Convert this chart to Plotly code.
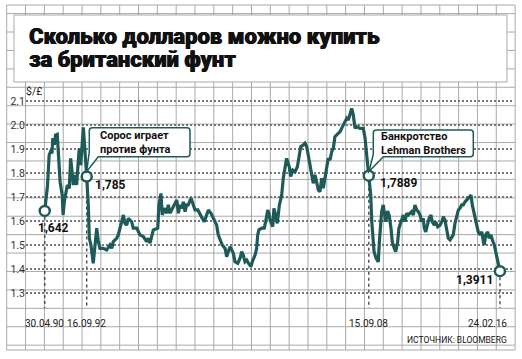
import plotly.graph_objects as go

# ---------------- data ----------------
years = [
    1990.33, 1990.49, 1990.58, 1990.66, 1990.74, 1990.79, 1990.88, 1990.94, 1991.04, 1991.07,
    1991.15, 1991.20, 1991.32, 1991.37, 1991.44, 1991.54, 1991.61, 1991.72, 1991.80, 1991.88,
    1991.95, 1992.05, 1992.14, 1992.23, 1992.29, 1992.37, 1992.46, 1992.52, 1992.71, 1992.80,
    1992.86, 1992.95, 1993.08, 1993.18, 1993.28, 1993.37, 1993.46, 1993.65, 1993.84, 1994.03,
    1994.13, 1994.22, 1994.41, 1994.50, 1994.60, 1994.79, 1994.88, 1994.98, 1995.07, 1995.17,
    1995.26, 1995.35, 1995.55, 1995.73, 1995.92, 1996.11, 1996.20, 1996.30, 1996.49, 1996.74,
    1996.81, 1996.92, 1997.00, 1997.11, 1997.25, 1997.34, 1997.43, 1997.53, 1997.68, 1997.82,
    1997.91, 1998.00, 1998.10, 1998.19, 1998.29, 1998.38, 1998.47, 1998.63, 1998.76, 1998.85,
    1999.01, 1999.14, 1999.27, 1999.38, 1999.52, 1999.61, 1999.76, 1999.89, 1999.99, 2000.08,
    2000.17, 2000.33, 2000.40, 2000.56, 2000.65, 2000.74, 2000.84, 2000.94, 2001.03, 2001.12,
    2001.28, 2001.41, 2001.50, 2001.59, 2001.69, 2001.79, 2001.88, 2002.03, 2002.10, 2002.26,
    2002.35, 2002.41, 2002.48, 2002.64, 2002.78, 2002.86, 2002.98, 2003.05, 2003.11, 2003.26,
    2003.33, 2003.45, 2003.52, 2003.64, 2003.77, 2003.86, 2003.96, 2004.05, 2004.20, 2004.28,
    2004.40, 2004.53, 2004.66, 2004.77, 2004.85, 2005.00, 2005.09, 2005.19, 2005.28, 2005.38,
    2005.47, 2005.56, 2005.66, 2005.76, 2005.85, 2005.94, 2006.04, 2006.13, 2006.23, 2006.32,
    2006.41, 2006.51, 2006.61, 2006.70, 2006.79, 2006.92, 2007.08, 2007.17, 2007.27, 2007.36,
    2007.46, 2007.55, 2007.65, 2007.74, 2007.83, 2007.93, 2008.03, 2008.21, 2008.40, 2008.50,
    2008.59, 2008.71, 2008.82, 2008.88, 2008.93, 2009.01, 2009.12, 2009.25, 2009.31, 2009.39,
    2009.44, 2009.53, 2009.59, 2009.67, 2009.78, 2009.86, 2009.97, 2010.04, 2010.16, 2010.24,
    2010.35, 2010.42, 2010.54, 2010.67, 2010.76, 2010.86, 2010.95, 2011.05, 2011.14, 2011.24,
    2011.33, 2011.43, 2011.52, 2011.62, 2011.71, 2011.80, 2011.86, 2011.94, 2012.05, 2012.13,
    2012.24, 2012.31, 2012.43, 2012.51, 2012.62, 2012.75, 2012.85, 2012.94, 2013.03, 2013.13,
    2013.22, 2013.32, 2013.41, 2013.50, 2013.60, 2013.70, 2013.79, 2013.88, 2013.98, 2014.07,
    2014.17, 2014.36, 2014.51, 2014.58, 2014.70, 2014.83, 2014.92, 2015.02, 2015.12, 2015.21,
    2015.26, 2015.34, 2015.46, 2015.53, 2015.64, 2015.72, 2015.83, 2015.91, 2015.98, 2016.06,
    2016.15,
]
usd_per_gbp = [
    1.642, 1.750, 1.875, 1.889, 1.882, 1.945, 1.917, 1.958, 1.961, 1.930,
    1.847, 1.764, 1.708, 1.625, 1.680, 1.722, 1.750, 1.736, 1.861, 1.805,
    1.750, 1.792, 1.750, 1.847, 1.903, 1.833, 1.945, 1.990, 1.785, 1.667,
    1.528, 1.500, 1.424, 1.514, 1.570, 1.514, 1.486, 1.486, 1.479, 1.500,
    1.486, 1.514, 1.528, 1.542, 1.570, 1.625, 1.590, 1.583, 1.611, 1.604,
    1.597, 1.570, 1.570, 1.542, 1.535, 1.514, 1.528, 1.508, 1.563, 1.570,
    1.667, 1.715, 1.625, 1.653, 1.632, 1.667, 1.632, 1.646, 1.667, 1.688,
    1.632, 1.667, 1.653, 1.680, 1.639, 1.667, 1.667, 1.695, 1.667, 1.646,
    1.646, 1.625, 1.611, 1.597, 1.625, 1.646, 1.632, 1.611, 1.590, 1.583,
    1.542, 1.514, 1.500, 1.486, 1.451, 1.472, 1.493, 1.479, 1.465, 1.430,
    1.424, 1.445, 1.472, 1.458, 1.430, 1.437, 1.424, 1.410, 1.430, 1.458,
    1.486, 1.542, 1.563, 1.570, 1.570, 1.597, 1.646, 1.632, 1.604, 1.576,
    1.653, 1.618, 1.590, 1.667, 1.708, 1.778, 1.820, 1.861, 1.826, 1.785,
    1.812, 1.805, 1.826, 1.875, 1.910, 1.917, 1.924, 1.910, 1.875, 1.826,
    1.799, 1.757, 1.792, 1.757, 1.729, 1.722, 1.778, 1.736, 1.785, 1.826,
    1.861, 1.854, 1.889, 1.903, 1.951, 1.961, 1.972, 1.986, 2.000, 2.007,
    2.028, 2.021, 2.049, 2.069, 2.042, 1.986, 1.993, 1.986, 1.986, 1.945,
    1.875, 1.7889, 1.708, 1.597, 1.528, 1.472, 1.445, 1.430, 1.514, 1.597,
    1.639, 1.667, 1.642, 1.597, 1.642, 1.625, 1.570, 1.514, 1.486, 1.472,
    1.514, 1.570, 1.597, 1.625, 1.597, 1.632, 1.625, 1.632, 1.639, 1.625,
    1.667, 1.646, 1.639, 1.625, 1.597, 1.611, 1.570, 1.555, 1.583, 1.611,
    1.625, 1.597, 1.583, 1.597, 1.576, 1.583, 1.597, 1.618, 1.604, 1.563,
    1.528, 1.521, 1.535, 1.542, 1.590, 1.625, 1.646, 1.653, 1.667, 1.667,
    1.680, 1.695, 1.708, 1.667, 1.625, 1.583, 1.555, 1.542, 1.555, 1.514,
    1.500, 1.542, 1.555, 1.528, 1.542, 1.521, 1.500, 1.472, 1.445, 1.417,
    1.3911,
]

event_years = [1990.33, 1992.71, 2008.71, 2016.15]
event_values = [1.642, 1.785, 1.7889, 1.3911]
event_value_labels = ["1,642", "1,785", "1,7889", "1,3911"]
event_date_labels = ["30.04.90", "16.09.92", "15.09.08", "24.02.16"]

y_tick_values = [1.3, 1.4, 1.5, 1.6, 1.7, 1.8, 1.9, 2.0, 2.1]
y_tick_labels = ["1.3", "1.4", "1.5", "1.6", "1.7", "1.8", "1.9", "2.0", "2.1"]

title_lines = ["Сколько долларов можно купить", "за британский фунт"]
unit_label = "$/£"
callout_soros = ["Сорос играет", "против фунта"]
callout_lehman = ["Банкротство", "Lehman Brothers"]
source_text = "ИСТОЧНИК: BLOOMBERG"

# ---------------- layout geometry ----------------
W, H = 522, 359
L, R, T, B = 26, 514, 95, 310
X0_PX, X0_YR, PX_PER_YR = 86.7, 1992.71, 17.63
Y0_PX, Y0_V, PX_PER_V = 101.0, 2.1, 240.0

TEAL = "#1e5a58"
GRID = "#a9a9a9"
SMALLF = "Roboto, Liberation Sans, sans-serif"
BOLDF = "Roboto, Inter, sans-serif"


def dx(px):
    return X0_YR + (px - X0_PX) / PX_PER_YR


def dy(py):
    return Y0_V - (py - Y0_PX) / PX_PER_V


def pxp(px):
    return (px - L) / (R - L)


def pyp(py):
    return (B - py) / (B - T)


fig = go.Figure()

fig.add_trace(go.Scatter(
    x=years, y=usd_per_gbp, mode="lines",
    line=dict(color=TEAL, width=3.2), hoverinfo="skip", showlegend=False,
))
fig.add_trace(go.Scatter(
    x=event_years, y=event_values, mode="markers",
    marker=dict(symbol="circle", size=10, color="white", line=dict(color=TEAL, width=2.5)),
    hoverinfo="skip", showlegend=False,
))

shapes = []
# graph-paper background
vx = [6.7 + k * 18.83 for k in range(28)]
hy = [5.0] + [13.6 + k * 18.42 for k in range(19)] + [350.0]
for x in vx:
    shapes.append(dict(type="line", xref="paper", yref="paper", x0=pxp(x), x1=pxp(x),
                       y0=pyp(5), y1=pyp(350), line=dict(color=GRID, width=1), layer="below"))
for y in hy:
    shapes.append(dict(type="line", xref="paper", yref="paper", x0=pxp(6.7), x1=pxp(515.1),
                       y0=pyp(y), y1=pyp(y), line=dict(color=GRID, width=1), layer="below"))
# title box
shapes.append(dict(type="rect", xref="paper", yref="paper", x0=pxp(14), x1=pxp(507),
                   y0=pyp(15), y1=pyp(82), fillcolor="white", line=dict(color=GRID, width=1),
                   layer="below"))
# dotted event lines
for ex, ev in zip(event_years, event_values):
    shapes.append(dict(type="line", xref="x", yref="y", x0=ex, x1=ex, y0=ev, y1=dy(308),
                       line=dict(color="#555", width=1.5, dash="dot"), layer="below"))


def callout(x0, y0, x1, y1, xb, ya, tx, ty, r=3):
    pts = [("M", x0 + r, y0), ("L", x1 - r, y0), ("Q", x1, y0, x1, y0 + r),
           ("L", x1, y1 - r), ("Q", x1, y1, x1 - r, y1), ("L", xb, y1), ("L", tx, ty),
           ("L", x0, ya), ("L", x0, y0 + r), ("Q", x0, y0, x0 + r, y0)]
    s = ""
    for p in pts:
        if p[0] == "Q":
            s += "Q%f,%f %f,%f " % (dx(p[1]), dy(p[2]), dx(p[3]), dy(p[4]))
        else:
            s += "%s%f,%f " % (p[0], dx(p[1]), dy(p[2]))
    s += "Z"
    return dict(type="path", xref="x", yref="y", path=s, fillcolor="white",
                line=dict(color=TEAL, width=1.5), layer="above")


shapes.append(callout(89.3, 127.7, 190, 156.7, 98.3, 151.7, 86.7, 171.5))
shapes.append(callout(373.3, 130, 473.3, 156.7, 383.3, 154.3, 369.0, 171.5))

ann = []


def text(px, py, t, size, xanchor="left", color="#222", family=SMALLF, weight="normal",
         align="left", shadow=None):
    font = dict(size=size, color=color, family=family, weight=weight)
    if shadow:
        font["shadow"] = shadow
    ann.append(dict(xref="paper", yref="paper", x=pxp(px), y=pyp(py), text=t, showarrow=False,
                    xanchor=xanchor, yanchor="middle", align=align, borderpad=0, font=font))


TSH = "0.5px 0px 0px #111, -0.3px 0px 0px #111"
text(28, 36, title_lines[0], 22, family=BOLDF, color="#111", weight=900, shadow=TSH)
text(28, 60, title_lines[1], 22, family=BOLDF, color="#111", weight=900, shadow=TSH)
text(25, 92, unit_label, 10.5)

text(53, 228, event_value_labels[0], 12, xanchor="center", color="#111", family=BOLDF, weight="bold")
text(94, 185, event_value_labels[1], 12, color="#111", family=BOLDF, weight="bold")
text(379, 183, event_value_labels[2], 12, color="#111", family=BOLDF, weight="bold")
text(494, 280, event_value_labels[3], 12, xanchor="right", color="#111", family=BOLDF, weight="bold")

text(99, 142, "<br>".join(callout_soros), 11, color="#111", family=BOLDF, weight="bold")
text(380, 143.5, "<br>".join(callout_lehman), 11, color="#111", family=BOLDF, weight="bold")

for i, (ey, lab) in enumerate(zip(event_years, event_date_labels)):
    xpx = X0_PX + (ey - X0_YR) * PX_PER_YR
    if i == len(event_years) - 1:
        text(508, 323, lab, 10, xanchor="right")
    else:
        text(xpx, 323, lab, 10, xanchor="center")

text(508, 340, source_text, 8.5, xanchor="right", color="#111")

fig.update_layout(
    width=W, height=H,
    margin=dict(l=L, r=W - R, t=T, b=H - B, autoexpand=False),
    paper_bgcolor="white", plot_bgcolor="rgba(0,0,0,0)",
    shapes=shapes, annotations=ann, showlegend=False,
    xaxis=dict(range=[dx(L), dx(R)], showgrid=False, zeroline=False, showticklabels=False,
               showline=False, ticks="", fixedrange=True, automargin=False),
    yaxis=dict(range=[dy(B), dy(T)], tickvals=y_tick_values, ticktext=y_tick_labels,
               showgrid=True, gridcolor="#777", gridwidth=1.5, griddash="2px,2px",
               zeroline=False, showline=False, ticks="", automargin=False,
               tickfont=dict(size=10.5, color="#333", family=SMALLF), fixedrange=True),
)

fig.write_html("out.html", config={"displayModeBar": False},
               post_script="document.body.style.margin='0px';document.body.style.padding='0px';")
